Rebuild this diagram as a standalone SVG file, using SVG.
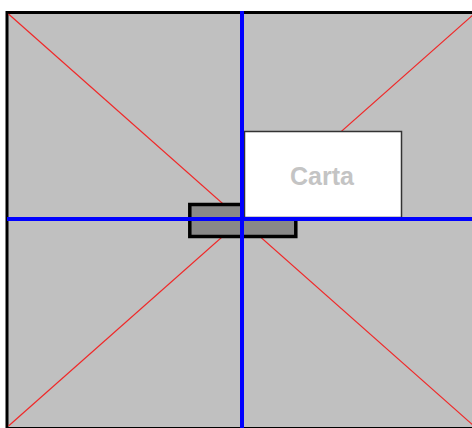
<svg xmlns="http://www.w3.org/2000/svg" width="472" height="428" viewBox="0 0 472 428">
<style>
.diag{stroke:#f02828;stroke-width:1.2;fill:none}
.axis{stroke:#0000ff;stroke-width:4;fill:none}
</style>
<rect x="0" y="0" width="472" height="428" fill="#ffffff"/>
<g id="frame">
<rect x="7" y="12.5" width="470" height="416" fill="#c0c0c0" stroke="#000000" stroke-width="3"/>
</g>
<g id="connectors">
<line class="diag" x1="8.5" y1="14" x2="474" y2="426"/>
<line class="diag" x1="8.5" y1="426" x2="474" y2="14"/>
</g>
<g id="anchor">
<rect x="189.8" y="204.5" width="106" height="32" fill="#888888" stroke="#000000" stroke-width="3.5"/>
</g>
<g id="carta">
<rect x="244.5" y="131.5" width="157" height="86" fill="#ffffff" stroke="#333333" stroke-width="1.5"/>
<text x="322" y="185" text-anchor="middle" font-family="Liberation Sans, Arial, sans-serif" font-size="25" font-weight="bold" fill="#c4c4c4">Carta</text>
</g>
<g id="axes">
<line class="axis" x1="242" y1="11" x2="242" y2="428"/>
<line class="axis" x1="7" y1="219" x2="472" y2="219"/>
</g>
</svg>
